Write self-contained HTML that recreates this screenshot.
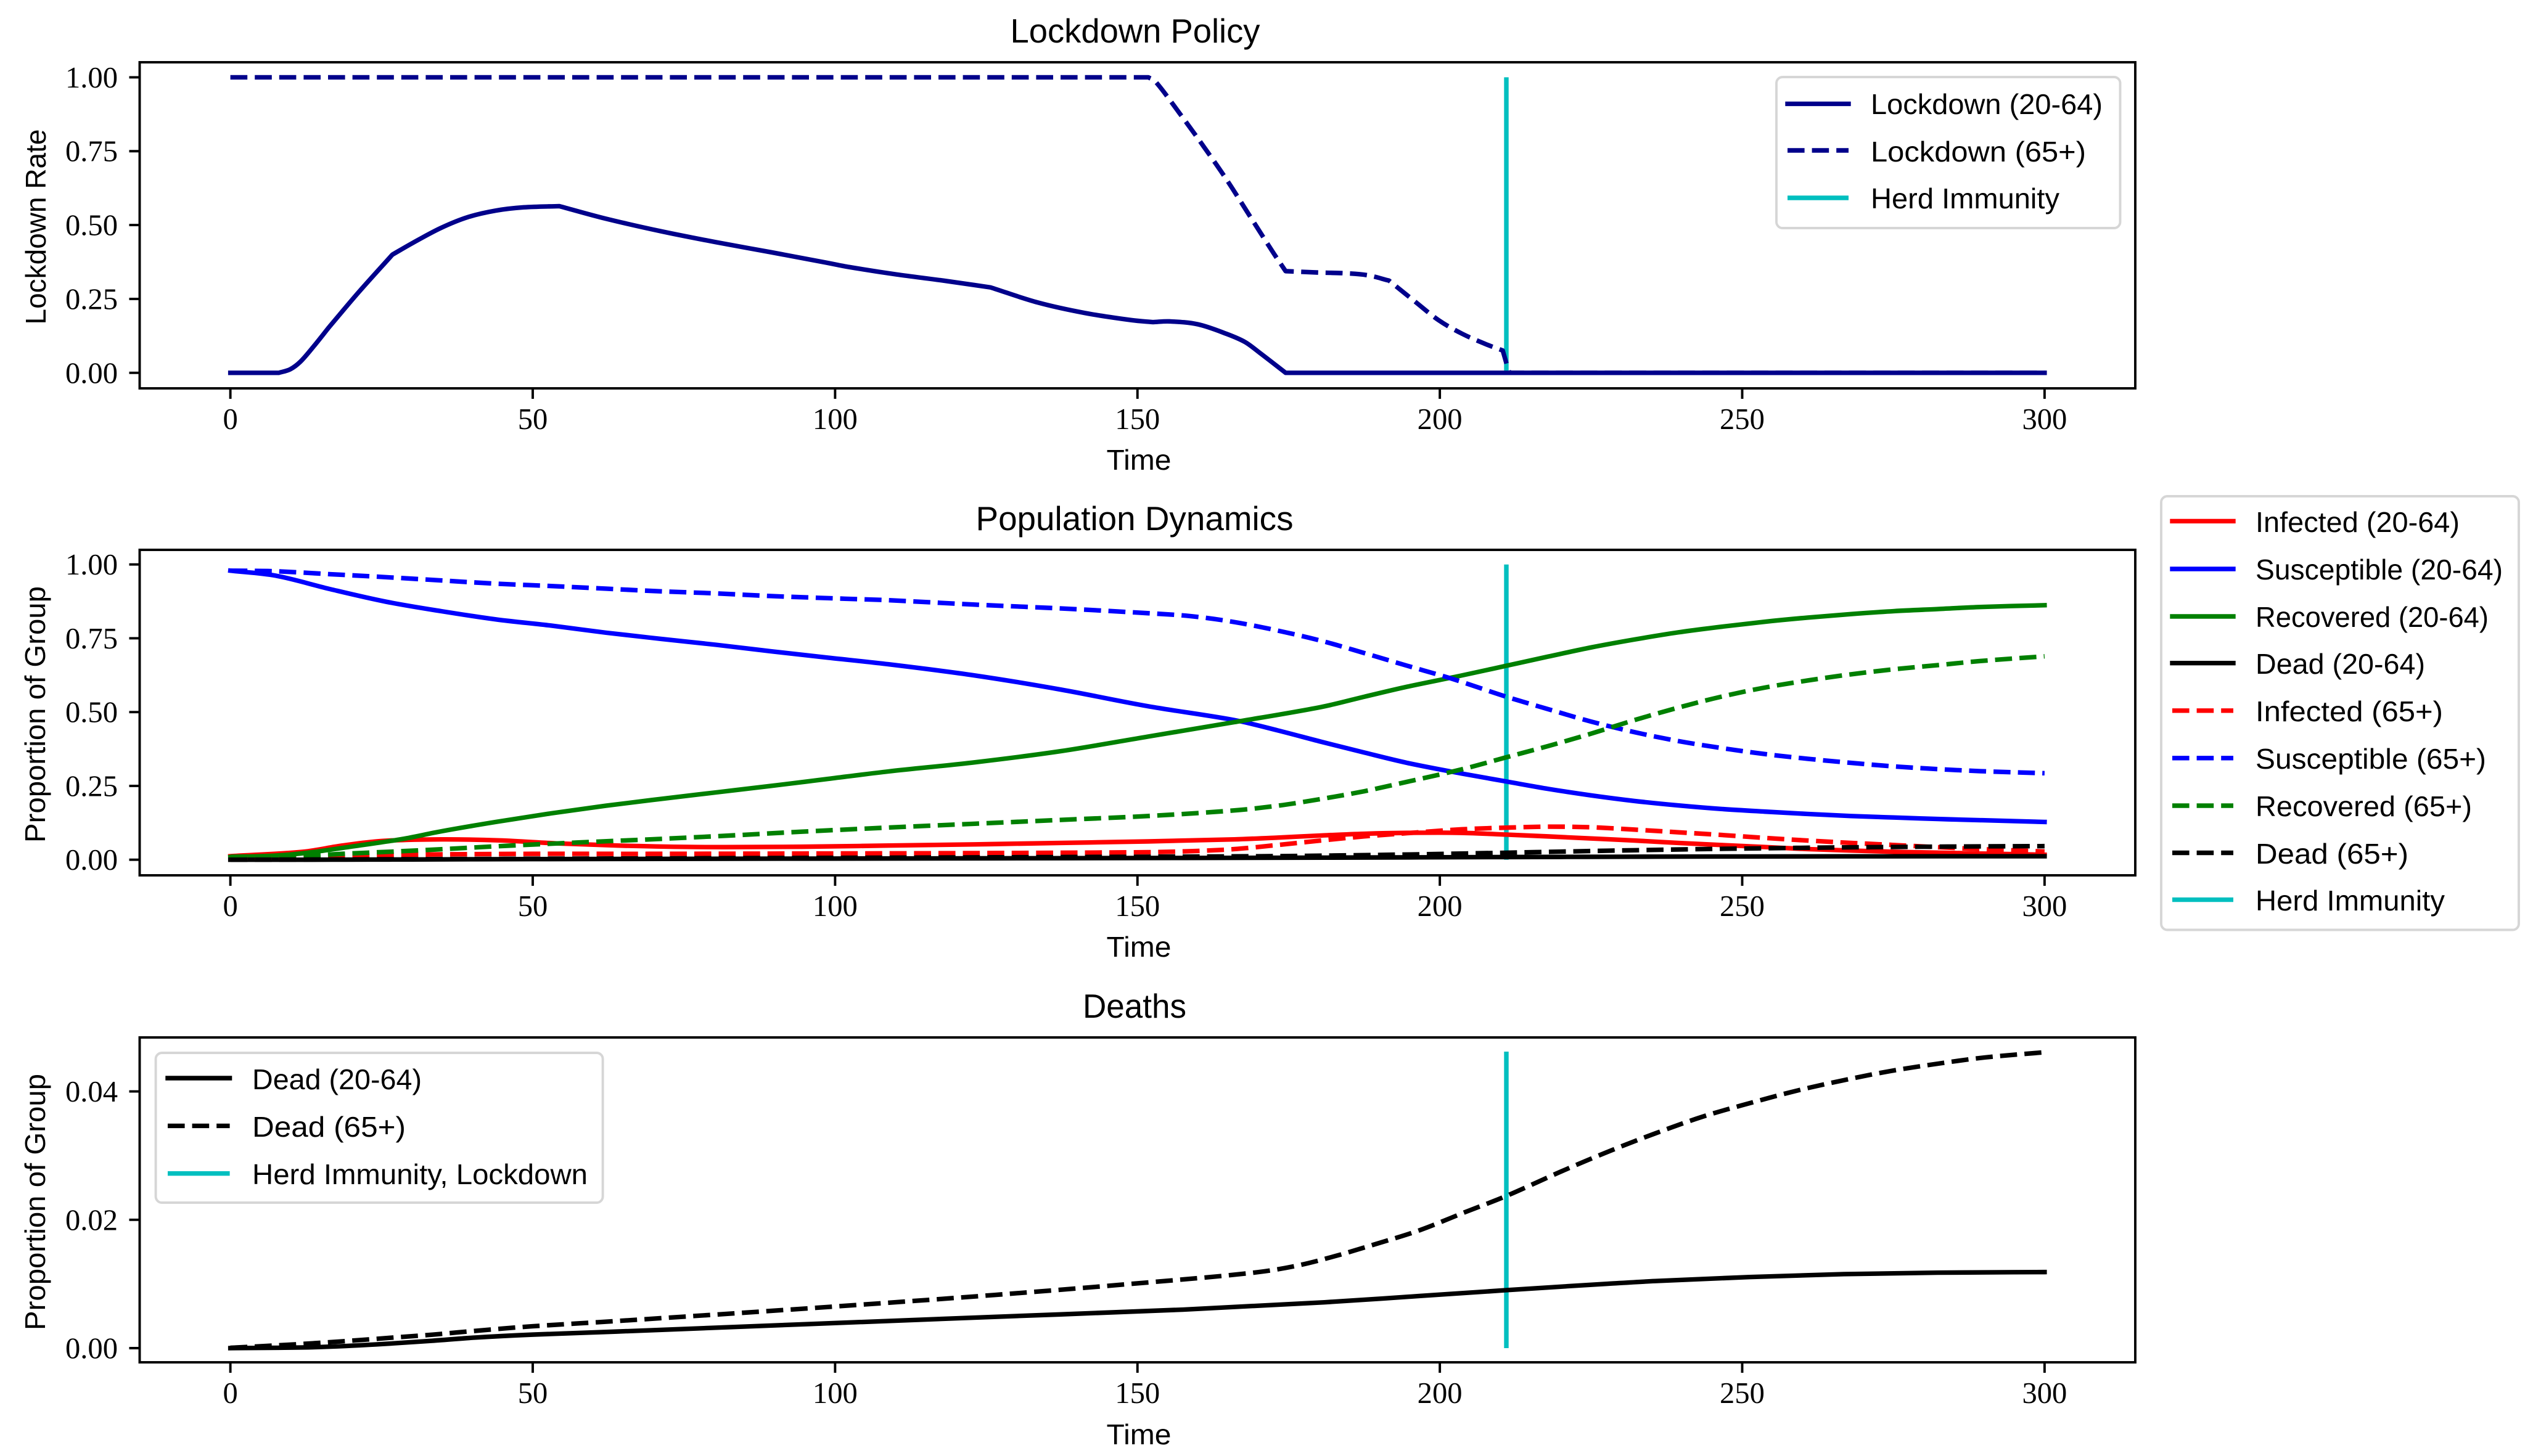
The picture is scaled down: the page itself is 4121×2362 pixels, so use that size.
<!DOCTYPE html>
<html lang="en">
<head>
<meta charset="utf-8">
<title>Lockdown Policy, Population Dynamics and Deaths</title>
<style>
html,body{margin:0;padding:0;background:#fff;width:4121px;height:2362px;overflow:hidden}
svg{display:block}
.title{font-family:"Liberation Sans",sans-serif;font-size:55px;fill:#000}
.label{font-family:"Liberation Sans",sans-serif;font-size:46px;fill:#000}
.legend-text{font-family:"Liberation Sans",sans-serif;font-size:46px;fill:#000}
.tick-text{font-family:"Liberation Serif",serif;font-size:48.6px;fill:#000}
.legend-frame{fill:#fff;fill-opacity:.8;stroke:#d6d6d6;stroke-width:3.9}
.swatch{stroke-width:7.4;fill:none}
.solid{stroke-linecap:square}
.dash{stroke-dasharray:27.6 12;stroke-linecap:butt}
</style>
</head>
<body>
<svg id="figure" xmlns="http://www.w3.org/2000/svg" width="4121" height="2362" viewBox="0 0 4121 2362">
  <rect x="0" y="0" width="4121" height="2362" fill="#fff"/>

  <g id="panel-lockdown"></g>
  <g id="panel-population"></g>
  <g id="panel-deaths"></g>

  <text class="title" x="1841" y="69" text-anchor="middle" textLength="405" lengthAdjust="spacingAndGlyphs">Lockdown Policy</text>
  <text class="title" x="1840" y="860" text-anchor="middle" textLength="515" lengthAdjust="spacingAndGlyphs">Population Dynamics</text>
  <text class="title" x="1840" y="1651" text-anchor="middle" textLength="168" lengthAdjust="spacingAndGlyphs">Deaths</text>

  <text class="label" x="1847" y="762" text-anchor="middle" textLength="105" lengthAdjust="spacingAndGlyphs">Time</text>
  <text class="label" x="1847" y="1552" text-anchor="middle" textLength="105" lengthAdjust="spacingAndGlyphs">Time</text>
  <text class="label" x="1847" y="2343" text-anchor="middle" textLength="105" lengthAdjust="spacingAndGlyphs">Time</text>

  <text class="label" transform="translate(74,368) rotate(-90)" text-anchor="middle" textLength="317" lengthAdjust="spacingAndGlyphs">Lockdown Rate</text>
  <text class="label" transform="translate(73,1159) rotate(-90)" text-anchor="middle" textLength="416" lengthAdjust="spacingAndGlyphs">Proportion of Group</text>
  <text class="label" transform="translate(73,1950) rotate(-90)" text-anchor="middle" textLength="416" lengthAdjust="spacingAndGlyphs">Proportion of Group</text>

  <g>
    <rect class="legend-frame" x="2881" y="125" width="557.5" height="245" rx="10"/>
    <g>
      <line class="swatch solid" x1="2899" x2="2998" y1="168.4" y2="168.4" stroke="#00008b"/>
      <text class="legend-text" x="3034" y="185" textLength="376" lengthAdjust="spacingAndGlyphs">Lockdown (20-64)</text>
    </g>
    <g>
      <line class="swatch dash" x1="2899" x2="2998" y1="244" y2="244" stroke="#00008b"/>
      <text class="legend-text" x="3034" y="262" textLength="349" lengthAdjust="spacingAndGlyphs">Lockdown (65+)</text>
    </g>
    <g>
      <line class="swatch" x1="2899" x2="2998" y1="321" y2="321" stroke="#00bfbf"/>
      <text class="legend-text" x="3034" y="338" textLength="306" lengthAdjust="spacingAndGlyphs">Herd Immunity</text>
    </g>
  </g>

  <g>
    <rect class="legend-frame" x="3505" y="805" width="580" height="703.5" rx="10"/>
    <g>
      <line class="swatch solid" x1="3523" x2="3622" y1="845.4" y2="845.4" stroke="#ff0000"/>
      <text class="legend-text" x="3658" y="863" textLength="331" lengthAdjust="spacingAndGlyphs">Infected (20-64)</text>
    </g>
    <g>
      <line class="swatch solid" x1="3523" x2="3622" y1="923" y2="923" stroke="#0000ff"/>
      <text class="legend-text" x="3658" y="940" textLength="401" lengthAdjust="spacingAndGlyphs">Susceptible (20-64)</text>
    </g>
    <g>
      <line class="swatch solid" x1="3523" x2="3622" y1="1000" y2="1000" stroke="#008000"/>
      <text class="legend-text" x="3658" y="1017" textLength="378" lengthAdjust="spacingAndGlyphs">Recovered (20-64)</text>
    </g>
    <g>
      <line class="swatch solid" x1="3523" x2="3622" y1="1075.7" y2="1075.7" stroke="#000000"/>
      <text class="legend-text" x="3658" y="1093" textLength="275" lengthAdjust="spacingAndGlyphs">Dead (20-64)</text>
    </g>
    <g>
      <line class="swatch dash" x1="3523" x2="3622" y1="1152.8" y2="1152.8" stroke="#ff0000"/>
      <text class="legend-text" x="3658" y="1170" textLength="304" lengthAdjust="spacingAndGlyphs">Infected (65+)</text>
    </g>
    <g>
      <line class="swatch dash" x1="3523" x2="3622" y1="1229.8" y2="1229.8" stroke="#0000ff"/>
      <text class="legend-text" x="3658" y="1247" textLength="374" lengthAdjust="spacingAndGlyphs">Susceptible (65+)</text>
    </g>
    <g>
      <line class="swatch dash" x1="3523" x2="3622" y1="1307" y2="1307" stroke="#008000"/>
      <text class="legend-text" x="3658" y="1324" textLength="351" lengthAdjust="spacingAndGlyphs">Recovered (65+)</text>
    </g>
    <g>
      <line class="swatch dash" x1="3523" x2="3622" y1="1383.5" y2="1383.5" stroke="#000000"/>
      <text class="legend-text" x="3658" y="1401" textLength="248" lengthAdjust="spacingAndGlyphs">Dead (65+)</text>
    </g>
    <g>
      <line class="swatch" x1="3523" x2="3622" y1="1459.6" y2="1459.6" stroke="#00bfbf"/>
      <text class="legend-text" x="3658" y="1477" textLength="307" lengthAdjust="spacingAndGlyphs">Herd Immunity</text>
    </g>
  </g>

  <g>
    <rect class="legend-frame" x="252.6" y="1708" width="725" height="243" rx="10"/>
    <g>
      <line class="swatch solid" x1="272" x2="372.6" y1="1749" y2="1749" stroke="#000000"/>
      <text class="legend-text" x="409" y="1767" textLength="275" lengthAdjust="spacingAndGlyphs">Dead (20-64)</text>
    </g>
    <g>
      <line class="swatch dash" x1="272" x2="372.6" y1="1826.4" y2="1826.4" stroke="#000000"/>
      <text class="legend-text" x="409" y="1844" textLength="249" lengthAdjust="spacingAndGlyphs">Dead (65+)</text>
    </g>
    <g>
      <line class="swatch" x1="272" x2="372.6" y1="1903.7" y2="1903.7" stroke="#00bfbf"/>
      <text class="legend-text" x="409" y="1921" textLength="544" lengthAdjust="spacingAndGlyphs">Herd Immunity, Lockdown</text>
    </g>
  </g>
</svg>

<script>
// ---- chart data ----
const xTickValues = [0, 50, 100, 150, 200, 250, 300];
const xTickLabels = ['0', '50', '100', '150', '200', '250', '300'];
const rateTickValues = [0, 0.25, 0.5, 0.75, 1];
const rateTickLabels = ['0.00', '0.25', '0.50', '0.75', '1.00'];
const deathTickValues = [0, 0.02, 0.04];
const deathTickLabels = ['0.00', '0.02', '0.04'];

const herdImmunityDay = [211];
const herdLineTop = [1, 1, 0.0462];

const lockdownYoungDays = [0,8,9.9,11.6,13.8,16.3,21.1,26.8,30.2,34.8,39.3,43.9,48.5,54.4,62,71.2,80.3,89.4,98.5,102.3,110.1,117.9,125.7,133.5,141.3,149.1,152.6,155.3,160,164.7,167.8,170.2,174.5,211,300];
const lockdownYoungValues = [0,0,.012,.038,.09,.154,.27,.40,.44,.49,.527,.549,.56,.564,.522,.479,.442,.408,.373,.358,.333,.312,.289,.238,.2025,.178,.1715,.174,.164,.132,.104,.068,0,0,0];
const lockdownYoungKinks = [8,16.3,26.8,54.4,125.7,152.6,174.5];
const lockdownOldDays = [0,151.8,153,156.9,160.8,164.7,168.6,172.5,174.5,180.3,184.2,188.1,191.6,195.9,199.8,203.7,207.6,210.4,211.1,211.5,300];
const lockdownOldValues = [1,1,.985,.88,.77,.655,.53,.405,.344,.339,.337,.33,.312,.241,.178,.132,.097,.0755,.026,0,0];
const lockdownOldKinks = [151.8,174.5,191.6,210.4,211.5];

const infectedYoungDays = [0,12,18.5,25,34.8,44.5,54.3,64,77,94.5,108.8,123.1,137.4,151.7,166,173.2,180.3,187.5,194.6,203.6,211,217.9,225,232.2,239.4,246.5,253.7,260.8,268,275.1,282.3,289.4,300];
const infectedYoungValues = [.012,.027,.048,.0635,.069,.0655,.055,.048,.043,.044,.048,.052,.057,.062,.069,.075,.082,.088,.091,.091,.085,.079,.072,.065,.057,.05,.043,.036,.031,.027,.024,.021,.017];
const susceptibleYoungDays = [0,7.5,16.6,25.7,34.8,43.9,53,62.1,71.2,80.3,89.4,98.5,108.8,123.1,137.4,151.7,166,173.2,180.3,187.5,194.6,203.6,211,217.9,225,232.2,239.4,246.5,253.7,260.8,268,275.1,282.3,289.4,300];
const susceptibleYoungValues = [.979,.962,.916,.874,.842,.814,.793,.769,.748,.728,.706,.685,.662,.624,.576,.520,.473,.438,.400,.363,.328,.292,.265,.24,.218,.199,.184,.172,.163,.155,.148,.143,.138,.134,.128];
const recoveredYoungDays = [0,7.5,12.9,20.2,28.4,34.8,43.9,53,62.1,71.2,80.3,89.4,98.5,108.8,123.1,137.4,151.7,166,180.3,187.5,194.6,203.6,211,217.9,225,232.2,239.4,246.5,253.7,260.8,268,275.1,282.3,289.4,300];
const recoveredYoungValues = [.009,.014,.024,.045,.07,.096,.128,.157,.183,.206,.228,.25,.273,.299,.33,.368,.417,.466,.517,.552,.586,.624,.657,.688,.719,.746,.77,.789,.806,.82,.832,.842,.849,.856,.862];
const deadYoungDays = [0,11.9,19.1,26.3,33.4,40.6,49.9,63.9,95.1,126.3,157.5,180.9,196.6,211,220,227.8,235.6,251.2,266.8,282.4,300];
const deadYoungValues = [0,.0001,.00033,.0007,.00115,.00165,.0021,.00258,.00373,.00487,.006,.00714,.00812,.00903,.00958,.01003,.01045,.01108,.01153,.01176,.01185];

const infectedOldDays = [0,12,20,30,40,50,70,94.5,123.1,151.7,158.8,166,173.2,180.3,187.5,194.6,203.6,211,217.9,225,232.2,239.4,246.5,253.7,260.8,268,275.1,282.3,289.4,300];
const infectedOldValues = [.005,.008,.013,.017,.019,.02,.02,.021,.0225,.0256,.029,.036,.05,.065,.079,.09,.103,.1087,.112,.11,.102,.093,.084,.074,.065,.057,.05,.0425,.036,.028];
const susceptibleOldDays = [0,7.5,16.6,25.7,34.8,43.9,53,62.1,71.2,80.3,89.4,101.6,108.8,123.1,137.4,151.7,158.8,166,173.2,180.3,187.5,194.6,202,211,217.9,225,232.2,239.4,246.5,253.7,260.8,268,275.1,282.3,289.4,300];
const susceptibleOldValues = [.979,.977,.967,.957,.946,.935,.927,.918,.909,.902,.893,.884,.879,.864,.851,.835,.825,.805,.776,.742,.70,.657,.613,.552,.51,.468,.432,.402,.3785,.358,.342,.328,.316,.307,.30,.293];
const recoveredOldDays = [0,7.5,12.9,18.5,31.5,44.5,57.5,70.5,83.6,94.5,108.8,123.1,137.4,151.7,166,173.2,180.3,187.5,194.6,203.6,211,217.9,225,232.2,239.4,246.5,253.7,260.8,268,275.1,282.3,289.4,300];
const recoveredOldValues = [.0103,.012,.014,.02,.032,.046,.0585,.07,.083,.095,.109,.122,.135,.148,.167,.183,.2055,.232,.264,.306,.347,.385,.427,.473,.515,.552,.583,.607,.628,.645,.659,.673,.689];
const deadOldDays = [0,11.9,19.1,26.3,33.4,40.6,49.9,63.9,95.1,126.3,157.5,170,176.3,182.5,188.8,196.6,204.4,211,220,227.8,235.6,243.4,251.2,259,266.8,274.6,282.4,290.2,300];
const deadOldValues = [.00005,.00065,.0011,.0016,.0021,.0027,.0034,.00422,.00617,.00828,.0107,.01185,.01283,.01429,.01605,.01835,.02127,.02371,.0275,.0306,.03345,.03605,.03816,.04011,.04175,.04319,.04433,.0453,.0461];

// ---- axis functions ----
const SVGNS = 'http://www.w3.org/2000/svg';
const LEFT = 226.5, RIGHT = 3463, X_MIN = -15, X_MAX = 315;
const xScale = function (d) { return LEFT + (d - X_MIN) / (X_MAX - X_MIN) * (RIGHT - LEFT); };
const yScaleFor = function (panel) {
  return function (v) { return panel.bottom - (v - panel.yMin) / (panel.yMax - panel.yMin) * (panel.bottom - panel.top); };
};

function smoothPiece(xs, ys) {
  const n = xs.length, m = [];
  for (let i = 0; i < n; i++) {
    const a = Math.max(0, i - 1), b = Math.min(n - 1, i + 1);
    m[i] = (ys[b] - ys[a]) / (xs[b] - xs[a]);
  }
  let d = '';
  for (let i = 0; i < n - 1; i++) {
    const h = (xs[i + 1] - xs[i]) / 3;
    d += 'C' + (xs[i] + h).toFixed(2) + ' ' + (ys[i] + m[i] * h).toFixed(2) + ' ' +
      (xs[i + 1] - h).toFixed(2) + ' ' + (ys[i + 1] - m[i + 1] * h).toFixed(2) + ' ' +
      xs[i + 1].toFixed(2) + ' ' + ys[i + 1].toFixed(2);
  }
  return d;
}
function smoothPath(days, xs, ys, kinks) {
  let d = 'M' + xs[0].toFixed(2) + ' ' + ys[0].toFixed(2);
  let start = 0;
  for (let i = 1; i < xs.length; i++) {
    if (i === xs.length - 1 || kinks.indexOf(days[i]) >= 0) {
      d += smoothPiece(xs.slice(start, i + 1), ys.slice(start, i + 1));
      start = i;
    }
  }
  return d;
}

function drawSeries(group, scaleY, s) {
  const xs = s.days.map(xScale);
  const ys = s.values.map(scaleY);
  const el = document.createElementNS(SVGNS, 'path');
  el.setAttribute('d', smoothPath(s.days, xs, ys, s.kinks));
  el.setAttribute('fill', 'none');
  el.setAttribute('stroke', s.color);
  el.setAttribute('stroke-width', '7.4');
  el.setAttribute('stroke-linejoin', 'round');
  el.setAttribute('stroke-linecap', s.dashed ? 'butt' : 'square');
  if (s.dashed) el.setAttribute('stroke-dasharray', '27.6 12');
  
  
  group.appendChild(el);
}

function drawPanel(panel, idx) {
  const group = document.getElementById(panel.id);
  const scaleY = yScaleFor(panel);

  herdImmunityDay.forEach(function (day) {
    const el = document.createElementNS(SVGNS, 'line');
    el.setAttribute('x1', xScale(day));
    el.setAttribute('x2', xScale(day));
    el.setAttribute('y1', scaleY(0));
    el.setAttribute('y2', scaleY(herdLineTop[idx]));
    el.setAttribute('stroke', '#00bfbf');
    el.setAttribute('stroke-width', '7.4');
    
    
    group.appendChild(el);
  });

  panel.series.forEach(function (s) { drawSeries(group, scaleY, s); });

  const frame = document.createElementNS(SVGNS, 'rect');
  frame.setAttribute('x', LEFT);
  frame.setAttribute('y', panel.top);
  frame.setAttribute('width', RIGHT - LEFT);
  frame.setAttribute('height', panel.bottom - panel.top);
  frame.setAttribute('fill', 'none');
  frame.setAttribute('stroke', '#000');
  frame.setAttribute('stroke-width', '3.9');
  
  
  group.appendChild(frame);

  xTickValues.forEach(function (v, i) {
    const tick = document.createElementNS(SVGNS, 'line');
    tick.setAttribute('x1', xScale(v));
    tick.setAttribute('x2', xScale(v));
    tick.setAttribute('y1', panel.bottom);
    tick.setAttribute('y2', panel.bottom + 17);
    tick.setAttribute('stroke', '#000');
    tick.setAttribute('stroke-width', '3.9');
    
    
    group.appendChild(tick);
    const label = document.createElementNS(SVGNS, 'text');
    label.setAttribute('class', 'tick-text');
    label.setAttribute('x', xScale(v));
    label.setAttribute('y', panel.bottom + 66);
    label.setAttribute('text-anchor', 'middle');
    label.textContent = xTickLabels[i];
    
    
    group.appendChild(label);
  });

  panel.yTicks.forEach(function (v, i) {
    const tick = document.createElementNS(SVGNS, 'line');
    tick.setAttribute('x1', LEFT - 17);
    tick.setAttribute('x2', LEFT);
    tick.setAttribute('y1', scaleY(v));
    tick.setAttribute('y2', scaleY(v));
    tick.setAttribute('stroke', '#000');
    tick.setAttribute('stroke-width', '3.9');
    
    
    group.appendChild(tick);
    const label = document.createElementNS(SVGNS, 'text');
    label.setAttribute('class', 'tick-text');
    label.setAttribute('x', 191);
    label.setAttribute('y', scaleY(v) + 16.5);
    label.setAttribute('text-anchor', 'end');
    label.textContent = panel.yLabels[i];
    
    
    group.appendChild(label);
  });
}

const noKinks = [];

const panels = [
  { id: 'panel-lockdown', prefix: 'lockdown', top: 101, bottom: 630, yMin: -0.0526, yMax: 1.0509,
    yTicks: rateTickValues, yLabels: rateTickLabels,
    series: [
      { name: 'line-lockdown-20-64', color: '#00008b', dashed: false, kinks: lockdownYoungKinks, days: lockdownYoungDays, values: lockdownYoungValues },
      { name: 'line-lockdown-65-plus', color: '#00008b', dashed: true, kinks: lockdownOldKinks, days: lockdownOldDays, values: lockdownOldValues }
    ] },
  { id: 'panel-population', prefix: 'population', top: 892, bottom: 1420, yMin: -0.0528, yMax: 1.0495,
    yTicks: rateTickValues, yLabels: rateTickLabels,
    series: [
      { name: 'line-infected-20-64', color: '#ff0000', dashed: false, kinks: noKinks, days: infectedYoungDays, values: infectedYoungValues },
      { name: 'line-susceptible-20-64', color: '#0000ff', dashed: false, kinks: noKinks, days: susceptibleYoungDays, values: susceptibleYoungValues },
      { name: 'line-recovered-20-64', color: '#008000', dashed: false, kinks: noKinks, days: recoveredYoungDays, values: recoveredYoungValues },
      { name: 'line-dead-20-64', color: '#000000', dashed: false, kinks: noKinks, days: deadYoungDays, values: deadYoungValues },
      { name: 'line-infected-65-plus', color: '#ff0000', dashed: true, kinks: noKinks, days: infectedOldDays, values: infectedOldValues },
      { name: 'line-susceptible-65-plus', color: '#0000ff', dashed: true, kinks: noKinks, days: susceptibleOldDays, values: susceptibleOldValues },
      { name: 'line-recovered-65-plus', color: '#008000', dashed: true, kinks: noKinks, days: recoveredOldDays, values: recoveredOldValues },
      { name: 'line-dead-65-plus', color: '#000000', dashed: true, kinks: noKinks, days: deadOldDays, values: deadOldValues }
    ] },
  { id: 'panel-deaths', prefix: 'deaths', top: 1683, bottom: 2210, yMin: -0.00221, yMax: 0.04841,
    yTicks: deathTickValues, yLabels: deathTickLabels,
    series: [
      { name: 'line-deaths-dead-20-64', color: '#000000', dashed: false, kinks: noKinks, days: deadYoungDays, values: deadYoungValues },
      { name: 'line-deaths-dead-65-plus', color: '#000000', dashed: true, kinks: noKinks, days: deadOldDays, values: deadOldValues }
    ] }
];

panels.forEach(drawPanel);
</script>
</body>
</html>
